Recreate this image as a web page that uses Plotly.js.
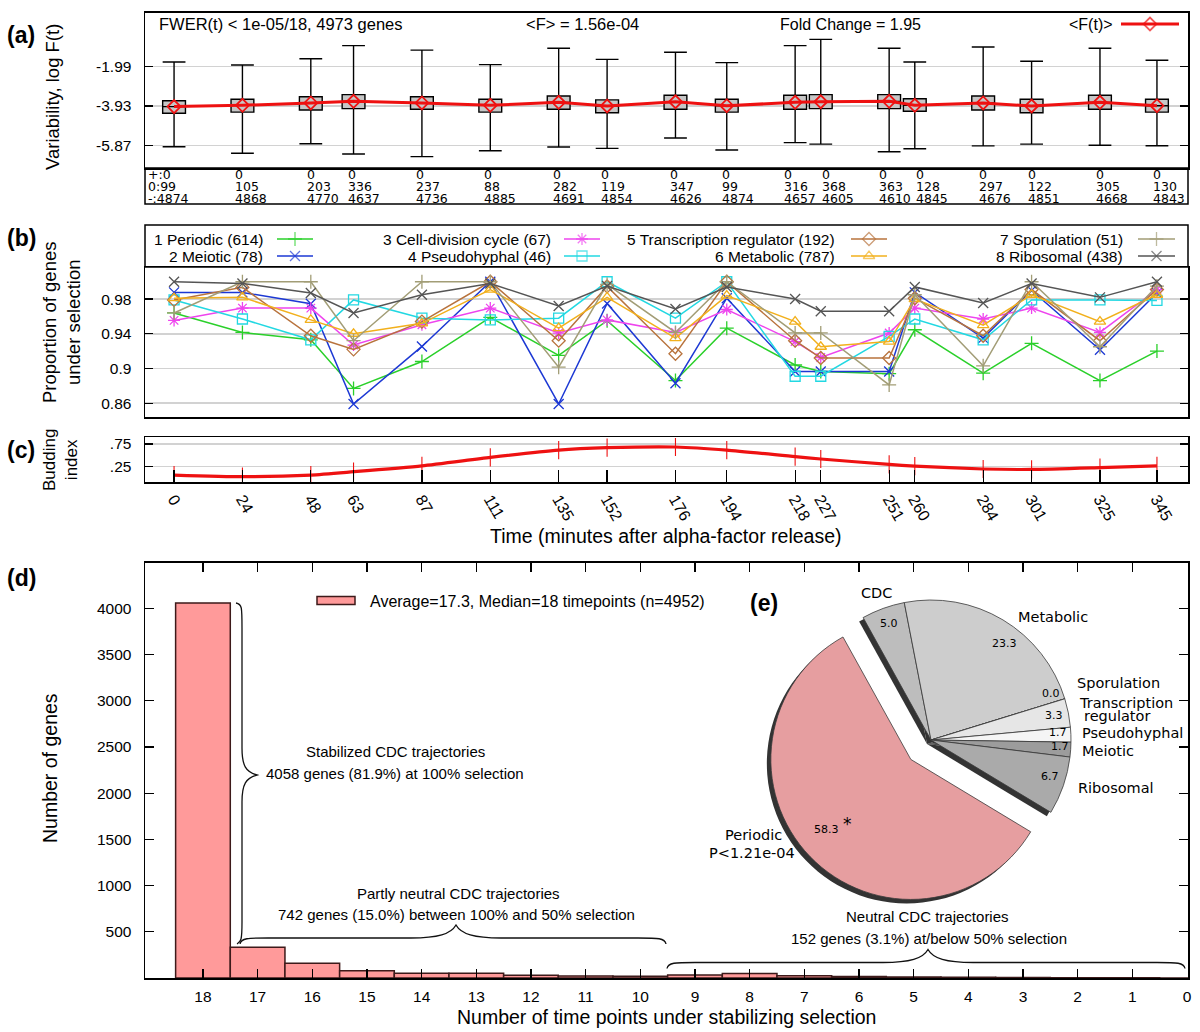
<!DOCTYPE html>
<html><head><meta charset="utf-8">
<script src="https://cdn.plot.ly/plotly-3.0.1.min.js"></script>
<style>html,body{margin:0;padding:0;background:#fff}</style>
</head><body><div id="chart" style="width:1200px;height:1032px"></div>
<script>
// ---------------- DATA ----------------
const times = [0,24,48,63,87,111,135,152,176,194,218,227,251,260,284,301,325,345];
const timeLabels = times.map(String);

// (a) variability log F(t): whisker low, box q1, mean, box q3, whisker high
const fLow  = [-5.94,-6.265,-5.79,-6.30,-6.43,-6.14,-5.95,-6.02,-5.51,-6.10,-5.74,-5.81,-6.19,-6.04,-5.90,-5.81,-5.87,-5.89];
const fQ1   = [-4.29,-4.23,-4.13,-4.06,-4.09,-4.23,-4.09,-4.26,-4.09,-4.23,-4.09,-4.06,-4.06,-4.19,-4.13,-4.26,-4.09,-4.23];
const fMean = [-3.96,-3.895,-3.78,-3.70,-3.78,-3.895,-3.75,-3.93,-3.72,-3.915,-3.75,-3.72,-3.70,-3.895,-3.78,-3.93,-3.75,-3.915];
const fQ3   = [-3.67,-3.60,-3.47,-3.37,-3.47,-3.60,-3.44,-3.63,-3.40,-3.60,-3.40,-3.37,-3.37,-3.57,-3.44,-3.60,-3.40,-3.60];
const fHigh = [-1.76,-1.906,-1.595,-0.95,-1.17,-1.89,-1.08,-1.63,-1.28,-1.79,-0.95,-0.64,-1.08,-1.76,-1.02,-1.72,-1.08,-1.67];
const aTicks = [-5.87,-3.93,-1.99];
const countPlus  = [0,0,0,0,0,0,0,0,0,0,0,0,0,0,0,0,0,0];
const countZero  = [99,105,203,336,237,88,282,119,347,99,316,368,363,128,297,122,305,130];
const countMinus = [4874,4868,4770,4637,4736,4885,4691,4854,4626,4874,4657,4605,4610,4845,4676,4851,4668,4843];
const rowPrefix = ['+:','0:','-:'];

// (b) proportion of genes under selection
const catNames  = ['Periodic','Meiotic','Cell-division cycle','Pseudohyphal','Transcription regulator','Metabolic','Sporulation','Ribosomal'];
const catCounts = [614,78,67,46,192,787,51,438];
const sPeriodic = [0.964,0.9415,0.933,0.877,0.908,0.959,0.915,0.955,0.886,0.9465,0.904,0.8965,0.894,0.9446,0.8946,0.929,0.886,0.920];
const sMeiotic  = [0.9877,0.9877,0.9746,0.859,0.9254,1.0,0.859,0.975,0.883,0.981,0.8965,0.8965,0.8965,0.9877,0.935,0.990,0.9215,0.987];
const sCDC      = [0.9554,0.9696,0.9696,0.927,0.9504,0.9696,0.9408,0.956,0.9415,0.968,0.931,0.9126,0.9408,0.9696,0.957,0.9696,0.9415,0.991];
const sPseudo   = [0.979,0.957,0.933,0.979,0.958,0.956,0.958,1.0,0.958,1.0,0.891,0.891,0.937,0.957,0.933,0.979,0.979,0.9785];
const sTranscr  = [0.979,0.9935,0.9377,0.922,0.954,1.0,0.932,0.9946,0.917,1.0,0.932,0.912,0.912,0.981,0.9377,0.991,0.932,0.991];
const sMetab    = [0.981,0.982,0.956,0.940,0.952,0.991,0.9466,0.982,0.935,0.984,0.954,0.925,0.931,0.980,0.950,0.985,0.954,0.985];
const sSporul   = [0.964,1.0,1.0,0.932,1.0,1.0,0.9015,0.997,0.9415,1.0,0.941,0.941,0.881,0.985,0.903,1.0,0.925,0.995];
const sRibo     = [1.0,0.998,0.987,0.964,0.985,0.998,0.972,0.995,0.9685,0.994,0.98,0.966,0.966,0.994,0.9755,0.998,0.982,1.0];
const bTicks = [0.86,0.9,0.94,0.98];

// (c) budding index
const budding = [0.067,0.03,0.067,0.14,0.27,0.456,0.617,0.668,0.684,0.617,0.47,0.42,0.30,0.265,0.2,0.19,0.23,0.27];
const cTicks = [0.25,0.75];
const cTickText = ['.25','.75'];

// (d) histogram
const histCats   = [18,17,16,15,14,13,12,11,10,9,8,7,6,5,4,3,2,1,0];
const histCounts = [4058,333,159,79,51,51,29,22,18,32,50,24,16,12,8,5,3,2,0];
const dTicks = [500,1000,1500,2000,2500,3000,3500,4000];

// (e) pie
const pieLabels = ['CDC','Metabolic','Sporulation','Transcription regulator','Pseudohyphal','Meiotic','Ribosomal','Periodic'];
const pieValues = [5.0,23.3,0.0,3.3,1.7,1.7,6.7,58.3];
const piePull   = [0,0,0,0,0,0,0,0.2];

// ---------------- STYLE / LAYOUT HELPERS ----------------
const W = 1200, H = 1032;
const px = p => p / W, py = p => 1 - p / H;
const FONT = 'Liberation Sans, Arial, Helvetica, sans-serif';
const DJ = 'DejaVu Sans, Verdana, sans-serif';
const RED = '#ee1111';
const seriesVals = [sPeriodic,sMeiotic,sCDC,sPseudo,sTranscr,sMetab,sSporul,sRibo];
const seriesColors = ['#2ad02a','#1c38d4','#ee44ee','#22d8e2','#b8733d','#f2b01c','#a29d76','#555555'];
const seriesSymbols = ['cross-thin-open','x-thin-open','asterisk-open','square-open','diamond-open','triangle-up-open','cross-thin-open','x-thin-open'];
const pieColors = ['#bdbdbd','#cdcdcd','#d9d9d9','#e6e6e6','#f5f5f5','#9c9c9c','#aaaaaa','#e69ea0'];
// pixel shift of each count-table column relative to its time point (layout only)
const tableShift = [0,-9,-6,-8,-8,-8,-8,-8,-7,-7,-13,-1,-12,-1,-6,-6,-6,-6];

const xDom = [px(145), px(1188)];
const xRange = [-10.2, 355.9];

const traces = [];

// (a) boxes
traces.push({type:'box', orientation:'v', x:times, q1:fQ1, median:fMean, q3:fQ3,
  lowerfence:fLow, upperfence:fHigh, width:8, whiskerwidth:1,
  fillcolor:'#c6c6c6', line:{color:'#000', width:1.4},
  xaxis:'x', yaxis:'y', hoverinfo:'skip', showlegend:false});
traces.push({type:'scatter', mode:'lines+markers', x:times, y:fMean,
  line:{color:RED, width:3}, marker:{symbol:'diamond-open', size:10, color:RED, line:{width:1.8}},
  xaxis:'x', yaxis:'y', hoverinfo:'skip', showlegend:false});

// (b) series
seriesVals.forEach((vals,i) => {
  traces.push({type:'scatter', mode:'lines+markers', x:times, y:vals,
    line:{color:seriesColors[i], width:1.5},
    marker:{symbol:seriesSymbols[i], size:10, color:seriesColors[i], line:{width:1.3}},
    xaxis:'x2', yaxis:'y2', hoverinfo:'skip', showlegend:false});
});

// (c) budding
traces.push({type:'scatter', mode:'lines+markers', x:times, y:budding, line:{color:RED, width:3.2, shape:'spline', smoothing:0.6},
  marker:{symbol:'line-ns-open', size:13, color:RED, line:{width:1.1, color:RED}},
  xaxis:'x3', yaxis:'y3', hoverinfo:'skip', showlegend:false});

// (d) histogram
traces.push({type:'bar', x:histCats, y:histCounts, width:1,
  marker:{color:'#ff9a9a', line:{color:'#3d1a1a', width:1.5}},
  xaxis:'x4', yaxis:'y4', hoverinfo:'skip', showlegend:false});

// legend samples on pixel overlay axis
const legCols = [[277,313],[564,600],[851,887],[1138,1175]];
const legRight = [265,553,837,1125];
const legRows = [239,256];
seriesVals.forEach((vals,i) => {
  const c = legCols[Math.floor(i/2)], yy = legRows[i%2];
  traces.push({type:'scatter', mode:'lines+markers', x:[c[0],(c[0]+c[1])/2,c[1]], y:[yy,yy,yy],
    line:{color:seriesColors[i], width:1.5},
    marker:{symbol:seriesSymbols[i], size:[0,10,0], color:seriesColors[i], line:{width:1.3}},
    xaxis:'x5', yaxis:'y5', hoverinfo:'skip', showlegend:false});
});
traces.push({type:'scatter', mode:'lines+markers', x:[1121,1150,1179], y:[24,24,24],
  line:{color:RED, width:3}, marker:{symbol:'diamond-open', size:[0,10,0], color:RED, line:{width:1.8}},
  xaxis:'x5', yaxis:'y5', hoverinfo:'skip', showlegend:false});

// (e) pie: shadow + main
const pieDom = {x:[px(763), px(1099)], y:[py(908), py(572)]};
traces.push({type:'pie', labels:pieLabels, values:pieValues, pull:piePull, sort:false,
  direction:'clockwise', rotation:-29, textinfo:'none', hoverinfo:'skip', showlegend:false,
  marker:{colors:pieLabels.map(()=> '#333333'), line:{width:0}},
  domain:{x:[px(759), px(1095)], y:[py(912), py(576)]}});
traces.push({type:'pie', labels:pieLabels, values:pieValues, pull:piePull, sort:false,
  direction:'clockwise', rotation:-29, textinfo:'none', hoverinfo:'skip', showlegend:false,
  marker:{colors:pieColors, line:{color:'#3a3a3a', width:0.8}},
  domain:pieDom});

// ---------------- AXES ----------------
const frame = {showline:true, linecolor:'#000', linewidth:1.5, zeroline:false};
const tf = {family:FONT, size:15.5, color:'#000'};
const layout = {
  width:W, height:H, margin:{l:0,r:0,t:0,b:0}, paper_bgcolor:'#fff', plot_bgcolor:'rgba(0,0,0,0)',
  font:{family:FONT, size:15, color:'#000'}, showlegend:false,
  xaxis: Object.assign({domain:xDom, range:xRange, anchor:'y', showticklabels:false, ticks:'', showgrid:false, mirror:true}, frame),
  yaxis: Object.assign({domain:[py(168), py(12.7)], range:[-6.99,0.675], anchor:'x', tickvals:aTicks, ticktext:aTicks.map(v=>v.toFixed(2)),
    ticks:'inside', ticklen:8, tickcolor:'#000', tickwidth:1.2, mirror:'ticks', showgrid:true, gridcolor:'#d2d2d2', gridwidth:1.5,
    tickfont:tf, ticklabelstandoff:9}, frame),
  xaxis2: Object.assign({domain:xDom, range:xRange, anchor:'y2', showticklabels:false, ticks:'', showgrid:false, mirror:true}, frame),
  yaxis2: Object.assign({domain:[py(417), py(267)], range:[0.844,1.017], anchor:'x2', tickvals:bTicks, ticktext:['0.86','0.9','0.94','0.98'],
    ticks:'inside', ticklen:8, tickcolor:'#000', tickwidth:1.2, mirror:'ticks', showgrid:true, gridcolor:'#d2d2d2', gridwidth:1.5,
    tickfont:tf, ticklabelstandoff:9}, frame),
  xaxis3: Object.assign({domain:xDom, range:xRange, anchor:'y3', tickvals:times, ticktext:timeLabels, tickangle:60,
    ticks:'inside', ticklen:12, tickcolor:'#000', tickwidth:1.2, showgrid:false, mirror:true, tickfont:{family:FONT, size:16, color:'#000'}}, frame),
  yaxis3: Object.assign({domain:[py(482.3), py(437.3)], range:[-0.093,0.897], anchor:'x3', tickvals:cTicks, ticktext:cTickText,
    ticks:'inside', ticklen:8, tickcolor:'#000', tickwidth:1.2, mirror:'ticks', showgrid:true, gridcolor:'#d2d2d2', gridwidth:1.5,
    tickfont:tf, ticklabelstandoff:9}, frame),
  xaxis4: Object.assign({domain:xDom, range:[19.06,-0.018], anchor:'y4', tickvals:histCats, ticktext:histCats.map(String),
    ticks:'inside', ticklen:9, tickcolor:'#000', tickwidth:1.2, mirror:'ticks', showgrid:false, tickfont:tf, ticklabelstandoff:4}, frame),
  yaxis4: Object.assign({domain:[py(978), py(562.7)], range:[0,4494], anchor:'x4', tickvals:dTicks, ticktext:dTicks.map(String),
    ticks:'inside', ticklen:9, tickcolor:'#000', tickwidth:1.2, mirror:'ticks', showgrid:false, tickfont:tf, ticklabelstandoff:9}, frame),
  xaxis5: {domain:[0,1], range:[0,W], anchor:'y5', visible:false, fixedrange:true},
  yaxis5: {domain:[0,1], range:[H,0], anchor:'x5', visible:false, fixedrange:true},
  shapes:[], annotations:[]
};

// shapes (pixel overlay)
const S = layout.shapes;
S.push({type:'rect', xref:'x5', yref:'y5', x0:145, x1:1188, y0:168, y1:204, line:{color:'#000', width:1.5}, layer:'above'});
S.push({type:'rect', xref:'x5', yref:'y5', x0:145, x1:1188, y0:225, y1:267, line:{color:'#000', width:1.5}, layer:'above'});
S.push({type:'rect', xref:'x5', yref:'y5', x0:317, x1:355, y0:596.5, y1:604.5, fillcolor:'#ff9a9a', line:{color:'#3d1a1a', width:1.5}, layer:'above'});
function hBrace(x1,x2,xm,y){
  return `M ${x1},${y+6} C ${x1+1},${y} ${x1+8},${y} ${x1+28},${y} L ${xm-45},${y} C ${xm-18},${y} ${xm-5},${y-4} ${xm},${y-13} `+
         `C ${xm+5},${y-4} ${xm+18},${y} ${xm+45},${y} L ${x2-28},${y} C ${x2-8},${y} ${x2-1},${y} ${x2},${y+6}`;
}
const braceLine = {color:'#111', width:1.3};
S.push({type:'path', xref:'x5', yref:'y5', path:hBrace(240,666,456,938), line:braceLine, layer:'above'});
S.push({type:'path', xref:'x5', yref:'y5', path:hBrace(667,1185,928,962.5), line:braceLine, layer:'above'});
S.push({type:'path', xref:'x5', yref:'y5', line:braceLine, layer:'above',
  path:'M 236,603 C 242,604 242,607 242,628 L 242,748 C 242,766 246,772 257,775 C 246,778 242,784 242,802 L 242,922 C 242,940 241,942 237,944'});

// annotations
const A = layout.annotations;
function txt(x,y,text,opts){ A.push(Object.assign({xref:'x5', yref:'y5', x, y, text, showarrow:false, xanchor:'center', yanchor:'middle', font:{family:FONT, size:15, color:'#000'}}, opts||{})); }

txt(21,35,'<b>(a)</b>',{font:{family:FONT,size:23}});
txt(21,238,'<b>(b)</b>',{font:{family:FONT,size:23}});
txt(21,450,'<b>(c)</b>',{font:{family:FONT,size:23}});
txt(21,578,'<b>(d)</b>',{font:{family:FONT,size:23}});
txt(764,603,'<b>(e)</b>',{font:{family:FONT,size:23}});

txt(52,97,'Variability, log F(t)',{textangle:-90, font:{family:FONT,size:18.5}});
txt(61,323,'Proportion of genes<br>under selection',{textangle:-90, font:{family:FONT,size:18.5}});
txt(60,460,'Budding<br>index',{textangle:-90, font:{family:FONT,size:17}});
txt(50,768,'Number of genes',{textangle:-90, font:{family:FONT,size:19.5}});
txt(666,536,'Time (minutes after alpha-factor release)',{font:{family:FONT,size:19.5}});
txt(666,1017,'Number of time points under stabilizing selection',{font:{family:FONT,size:19.5}});

txt(157,24,'FWER(t) &lt; 1e-05/18, 4973 genes',{xanchor:'left', font:{family:FONT,size:16.5}});
txt(582,24,'&lt;F&gt; = 1.56e-04',{font:{family:FONT,size:16.5}});
txt(850,24,'Fold Change = 1.95',{font:{family:FONT,size:16}});
txt(1115,24,'&lt;F(t)&gt;',{xanchor:'right', font:{family:FONT,size:16}});

// count table under (a)
const rowY = [174.5,186.5,198];
const rows = [countPlus,countZero,countMinus];
const tabFont = {family:DJ, size:12.5, color:'#000'};
rows.forEach((arr,r) => {
  arr.forEach((v,i) => {
    if (i === 0) {
      txt(146,rowY[r],rowPrefix[r]+v,{xanchor:'left', font:tabFont});
    } else {
      A.push({xref:'x', yref:'y5', x:times[i], y:rowY[r], xshift:tableShift[i], text:String(v), showarrow:false,
        xanchor:'left', yanchor:'middle', font:tabFont});
    }
  });
});

// (b) legend texts
catNames.forEach((n,i) => {
  txt(legRight[Math.floor(i/2)], legRows[i%2], `${i+1} ${n} (${catCounts[i]})`, {xanchor:'right', font:{family:FONT,size:15.5}});
});

// (d) legend and brace texts
txt(368,601,'Average=17.3, Median=18 timepoints (n=4952)',{xanchor:'left', font:{family:FONT,size:16}});
txt(395,751,'Stabilized CDC trajectories');
txt(395,773,'4058 genes (81.9%) at 100% selection');
txt(458,893,'Partly neutral CDC trajectories');
txt(456,914,'742 genes (15.0%) between 100% and 50% selection');
txt(927,916,'Neutral CDC trajectories');
txt(929,938,'152 genes (3.1%) at/below 50% selection');

// (e) pie labels
const pl = {family:DJ, size:14.5, color:'#000'};
const pv = {family:DJ, size:11, color:'#000'};
const fmt = v => v.toFixed(1);
txt(876,593,'CDC',{font:pl});
txt(1053,617,'Metabolic',{font:pl});
txt(1075,683,'Sporulation',{xanchor:'left', font:pl});
txt(1077,703,'Transcription',{xanchor:'left', font:pl});
txt(1082,716,'regulator',{xanchor:'left', font:pl});
txt(1080,733,'Pseudohyphal',{xanchor:'left', font:pl});
txt(1080,751,'Meiotic',{xanchor:'left', font:pl});
txt(1076,788,'Ribosomal',{xanchor:'left', font:pl});
txt(753,835,'Periodic',{font:pl});
txt(752,853,'P&lt;1.21e-04',{font:pl});
txt(889,623,fmt(pieValues[0]),{font:pv});
txt(1004,643,fmt(pieValues[1]),{font:pv});
txt(1051,693,fmt(pieValues[2]),{font:pv});
txt(1054,715,fmt(pieValues[3]),{font:pv});
txt(1058,732,fmt(pieValues[4]),{font:pv});
txt(1060,746,fmt(pieValues[5]),{font:pv});
txt(1050,776,fmt(pieValues[6]),{font:pv});
txt(826,829,fmt(pieValues[7]),{font:pv});
txt(847,824,'*',{font:{family:DJ,size:17}});

Plotly.newPlot('chart', traces, layout, {displayModeBar:false, staticPlot:true});
</script></body></html>
